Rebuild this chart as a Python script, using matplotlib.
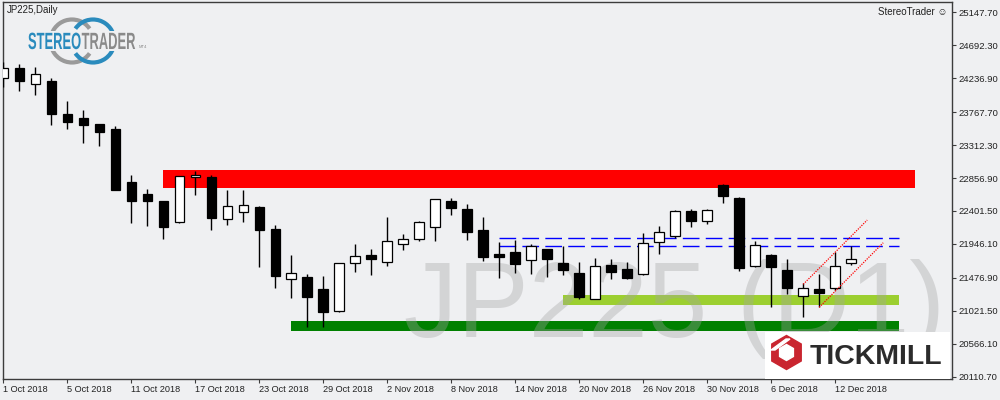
import matplotlib
matplotlib.use("Agg")
import matplotlib.pyplot as plt
from matplotlib.patches import Rectangle, Arc, PathPatch, RegularPolygon, Polygon
from matplotlib.textpath import TextPath
from matplotlib.font_manager import FontProperties
from matplotlib.transforms import Affine2D

# --- Date OHLC (JP225, Daily, 1 Oct - 13 Dec 2018) ---
opens = [24235, 24373, 24152, 24197, 23741, 23686, 23603, 23534, 22802, 22636,
         22539, 22245, 22866, 22871, 22286, 22391, 22456, 22152, 21457, 21489,
         21323, 21015, 21678, 21789, 21692, 21941, 22010, 22184, 22539, 22428,
         22138, 21806, 21834, 21719, 21876, 21682, 21540, 21191, 21654, 21599,
         21526, 21968, 22059, 22397, 22258, 22760, 22580, 21636, 21793, 21585,
         21222, 21323, 21332, 21678]
highs = [24464, 24432, 24391, 24235, 23921, 23797, 23610, 23575, 22898, 22705,
         22545, 22890, 22954, 22898, 22691, 22691, 22470, 22207, 21793, 21530,
         21502, 21680, 21945, 21876, 22318, 22083, 22263, 22570, 22580, 22497,
         22318, 21976, 22000, 21945, 21880, 21913, 21700, 21748, 21737, 21692,
         22093, 22193, 22419, 22428, 22424, 22774, 22594, 21990, 21806, 21737,
         21402, 21530, 21830, 21921]
lows = [24119, 24063, 24004, 23589, 23538, 23345, 23303, 22690, 22239, 22198,
        22018, 22231, 22626, 22142, 22211, 22253, 21631, 21341, 21203, 20802,
        20802, 21010, 21562, 21520, 21645, 21866, 21990, 21986, 22350, 22000,
        21714, 21479, 21548, 21530, 21493, 21520, 21180, 21178, 21465, 21457,
        21520, 21811, 22028, 22184, 22225, 22515, 21576, 21630, 21070, 21250,
        20940, 21070, 21309, 21654]
closes = [24373, 24201, 24290, 23745, 23635, 23593, 23497, 22695, 22543, 22543,
          22184, 22884, 22894, 22308, 22466, 22484, 22142, 21507, 21540, 21216,
          21009, 21678, 21775, 21742, 21982, 22010, 22245, 22562, 22446, 22115,
          21769, 21769, 21672, 21913, 21742, 21589, 21216, 21636, 21562, 21479,
          21954, 22115, 22397, 22267, 22410, 22612, 21617, 21927, 21631, 21341,
          21332, 21263, 21636, 21737]

date_labels = ["1 Oct 2018", "5 Oct 2018", "11 Oct 2018", "17 Oct 2018",
               "23 Oct 2018", "29 Oct 2018", "2 Nov 2018", "8 Nov 2018",
               "14 Nov 2018", "20 Nov 2018", "26 Nov 2018", "30 Nov 2018",
               "6 Dec 2018", "12 Dec 2018"]
price_ticks = [20110.70, 20566.10, 21021.50, 21476.90, 21946.10, 22401.50,
               22856.90, 23312.30, 23767.70, 24236.90, 24692.30, 25147.70]

# --- Zone (bara start, bara final, pret jos, pret sus) ---
red_zone = (10, 57, 22718, 22967)
green_zone = (18, 56, 20746, 20880)
lime_zone = (35, 56, 21102, 21240)
blue_levels = [22023, 21913]
blue_span = (31, 56)
channel_1 = ([50, 54], [21388, 22276])
channel_2 = ([51, 55], [21070, 21962])

BG = "#eff0f2"
FONT = ["Liberation Sans", "DejaVu Sans"]

fig = plt.figure(figsize=(10, 4), dpi=100)
fig.patch.set_facecolor(BG)
ax = fig.add_axes([0.0027, 0.0525, 0.9493, 0.9425])
ax.set_facecolor(BG)

# --- Zone colorate ---
for (x0, x1, y0, y1), col in [(red_zone, "#ff0000"), (green_zone, "#008000"),
                              (lime_zone, "#9ccf30")]:
    ax.fill_between([x0, x1], y0, y1, color=col, lw=0, zorder=1)

for lvl in blue_levels:
    ax.plot(blue_span, [lvl, lvl], color="#0000ff", lw=1,
            linestyle=(0, (12, 4.5)), zorder=2)

for xs, ys in (channel_1, channel_2):
    ax.plot(xs, ys, color="#ff0000", lw=0.9, linestyle=(0, (1, 1)), zorder=4)

# --- Watermark ---
ax.text(0.674, 1 - 337 / 400, "JP225 (D1)", transform=fig.transFigure,
        ha="center", va="baseline", fontsize=77, family=FONT,
        color="#a3a3a3", alpha=0.36, zorder=1.5)

# --- Lumanari ---
for i, (o, h, l, c) in enumerate(zip(opens, highs, lows, closes)):
    ax.vlines(i, l, h, color="black", lw=1, zorder=3)
    bull = c >= o
    ax.bar(i, abs(c - o), bottom=min(o, c), width=0.6,
           color="white" if bull else "black", edgecolor="black",
           linewidth=0.9, zorder=3.5)

ax.set_xlim(-0.04, 59.3)
ax.set_ylim(20079, 25290)

# --- Axe ---
for s in ax.spines.values():
    s.set_color("#3c3c3c")
    s.set_linewidth(1)

ax.set_xticks(range(0, 4 * len(date_labels), 4))
ax.set_xticklabels(date_labels, ha="left", family=FONT, fontsize=6.6,
                   color="#222222")
ax.yaxis.tick_right()
ax.set_yticks(price_ticks)
ax.set_yticklabels([f"{p:.2f}" for p in price_ticks], family=FONT,
                   fontsize=6.8, color="#222222")
ax.tick_params(axis="both", direction="out", length=3, width=0.8,
               color="#3c3c3c")
ax.tick_params(axis="x", pad=1.5)
ax.tick_params(axis="y", pad=2)

# --- Texte ---
fig.text(7 / 1000, 1 - 10 / 400, "JP225,Daily", ha="left", va="center",
         fontsize=7, family=FONT, color="#222222")
fig.text(947 / 1000, 1 - 12 / 400, "StereoTrader \u263a", ha="right",
         va="center", fontsize=7, family=FONT, color="#222222")

# --- Logo StereoTrader (coordonate in pixeli) ---
pix = Affine2D().scale(1 / 1000, 1 / 400) + fig.transFigure
fig.patches.append(Arc((72, 400 - 41), 43, 43, theta1=35, theta2=325,
                       color="#9a9a9a", lw=3, transform=pix))
fig.patches.append(Arc((93, 400 - 41), 43, 43, theta1=-145, theta2=145,
                       color="#2a8bbd", lw=3, transform=pix))
fig.patches.append(Rectangle((26, 400 - 51), 114, 20, color=BG, lw=0,
                             transform=pix))
fp = FontProperties(family="Liberation Sans", weight="bold")
x0 = 28
for word, col in [("STEREO", "#2a8bbd"), ("TRADER", "#8a8a8a")]:
    tp = TextPath((0, 0), word, size=23.5, prop=fp)
    w = tp.get_extents().x1
    tr = Affine2D().scale(0.55, 1).translate(x0, 400 - 49) + pix
    fig.patches.append(PathPatch(tp, color=col, lw=0, transform=tr))
    x0 += w * 0.55 + 1
fig.text(x0 / 1000 + 0.002, 1 - 48 / 400, "MT4", fontsize=3, family=FONT,
         color="#8a8a8a", va="baseline")

# --- Logo Tickmill ---
fig.patches.append(Rectangle((765, 400 - 378.5), 185, 46.5, color="white",
                             lw=0, transform=pix, zorder=5))
fig.patches.append(RegularPolygon((786.5, 400 - 352.5), 6, radius=17,
                                  orientation=0, color="#c9252f",
                                  transform=pix, zorder=6))
fig.patches.append(RegularPolygon((786.5, 400 - 352.5), 6, radius=8,
                                  orientation=0, color="white",
                                  transform=pix, zorder=6))
fig.patches.append(Polygon([(771, 400 - 350), (775, 400 - 350),
                            (790, 400 - 339), (786, 400 - 339)],
                           closed=True, color="white", transform=pix,
                           zorder=6))
fig.text(810 / 1000, 1 - 356.5 / 400, "TICKMILL", ha="left", va="center",
         fontsize=20.5, weight="bold", family=FONT, color="#2b2b2b",
         zorder=7)

fig.savefig("out.png", dpi=100, facecolor=BG)
